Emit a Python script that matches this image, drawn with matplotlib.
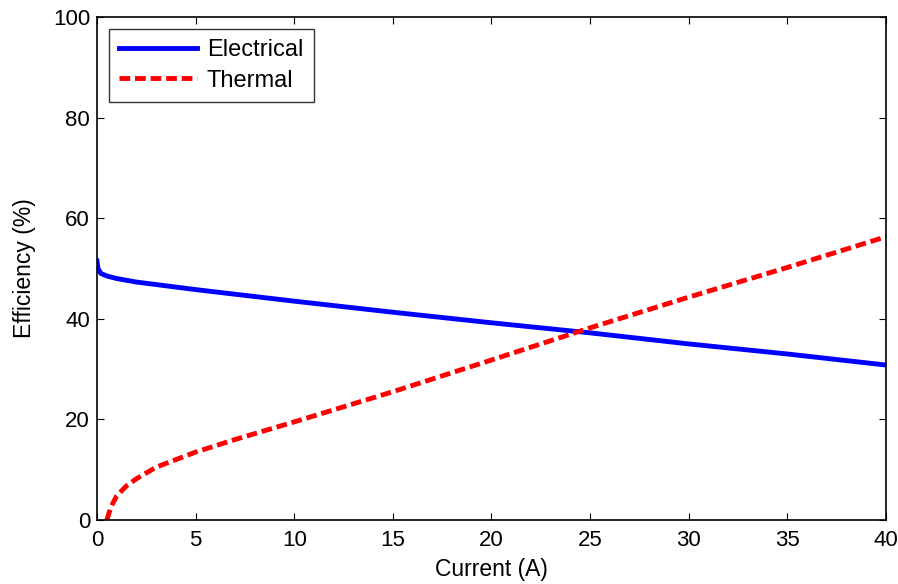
import matplotlib
matplotlib.use("Agg")
import matplotlib.pyplot as plt
import numpy as np

plt.rcParams['font.family'] = ['Liberation Sans', 'DejaVu Sans']

# values
current_elec = np.array([0, 0.05, 0.2, 0.5, 1, 2, 3, 5, 10, 15, 20, 25, 30, 35, 40])
eff_elec = np.array([51.5, 50.0, 49.0, 48.5, 48.0, 47.3, 46.8, 45.8, 43.5, 41.3, 39.2, 37.2, 35.0, 33.0, 30.8])

current_therm = np.array([0.5, 0.7, 1, 1.5, 2, 3, 4, 5, 7, 10, 15, 20, 25, 30, 35, 40])
eff_therm = np.array([0, 2.5, 4.8, 6.8, 8.2, 10.5, 12.0, 13.5, 16.0, 19.5, 25.5, 31.8, 38.2, 44.3, 50.2, 56.3])

fig = plt.figure(figsize=(8.98, 5.84), dpi=100)
ax = fig.add_axes([0.108, 0.1096, 0.8786, 0.8614])

ax.plot(current_elec, eff_elec, color='#0000ff', lw=3.5, label='Electrical')
ax.plot(current_therm, eff_therm, color='#ff0000', lw=3.5, ls=(0, (2.2, 1.0)), label='Thermal')

ax.set_xlim(0, 40)
ax.set_ylim(0, 100)
ax.set_xticks(np.arange(0, 41, 5))
ax.set_yticks(np.arange(0, 101, 20))
ax.tick_params(direction='in', top=True, right=True, labelsize=16, length=5)
ax.tick_params(axis='x', pad=7)
ax.tick_params(axis='y', pad=5)
for s in ax.spines.values():
    s.set_linewidth(1.2)

ax.set_xlabel('Current (A)', fontsize=16.5, labelpad=5)
ax.set_ylabel('Efficiency (%)', fontsize=16.5, labelpad=12)

leg = ax.legend(loc='upper left', fontsize=17, frameon=True, fancybox=False,
                edgecolor='black', handlelength=3.3, borderaxespad=0.5,
                labelspacing=0.35, handletextpad=0.4, borderpad=0.45)
leg.get_frame().set_linewidth(1.0)

fig.savefig('out.png', dpi=100)
